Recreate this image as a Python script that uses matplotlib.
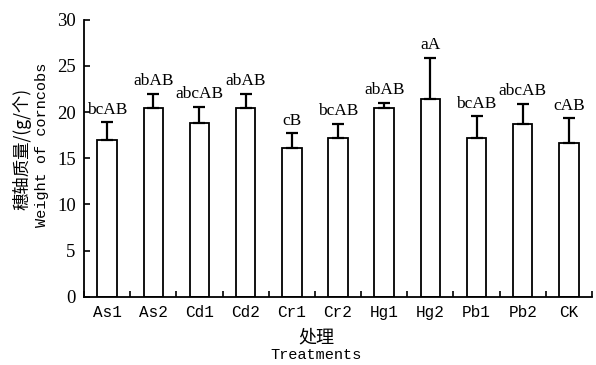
import matplotlib.pyplot as plt
import numpy as np

treatments = ["As1", "As2", "Cd1", "Cd2", "Cr1", "Cr2", "Hg1", "Hg2", "Pb1", "Pb2", "CK"]
weight = [17.0, 20.45, 18.85, 20.45, 16.15, 17.15, 20.45, 21.45, 17.15, 18.75, 16.7]
err = [1.9, 1.5, 1.7, 1.5, 1.55, 1.55, 0.55, 4.45, 2.4, 2.15, 2.6]
letters = ["bcAB", "abAB", "abcAB", "abAB", "cB", "bcAB", "abAB", "aA", "bcAB", "abcAB", "cAB"]

serif = "Liberation Serif"
mono = "Liberation Mono"
cjk = ["Noto Sans CJK SC", "DejaVu Sans"]

fig = plt.figure(figsize=(5.96, 3.65), dpi=100)
ax = fig.add_axes([84 / 596, 1 - 296.7 / 365, 508 / 596, 277 / 365])

x = np.arange(len(treatments))
ax.bar(x, weight, width=0.42, color="white", edgecolor="black", linewidth=1.3)
ax.errorbar(x, weight, yerr=[np.zeros(len(err)), err], fmt="none",
            ecolor="black", elinewidth=1.6, capsize=4.3, capthick=1.6)

for xi, w, e, lab in zip(x, weight, err, letters):
    ax.text(xi, w + e + 0.5, lab, ha="center", va="bottom",
            fontfamily=serif, fontsize=12.5)

ax.set_xlim(-0.5, len(treatments) - 0.5)
ax.set_ylim(0, 30)
ax.set_yticks(range(0, 31, 5))
ax.set_xticks(x)
ax.set_xticklabels(treatments, fontfamily=mono, fontsize=11.5)
ax.set_xticks(np.arange(-0.5, len(treatments)), minor=True)
ax.tick_params(axis="x", which="major", length=0, pad=6)
ax.tick_params(axis="x", which="minor", direction="in", length=4, width=1.2)
ax.tick_params(axis="y", direction="in", length=4, width=1.2, labelsize=13.5, pad=6)
for t in ax.get_yticklabels():
    t.set_fontfamily(serif)

ax.spines["top"].set_visible(False)
ax.spines["right"].set_visible(False)
ax.spines["left"].set_linewidth(1.3)
ax.spines["bottom"].set_linewidth(1.3)

fig.text(316 / 596, 1 - 337 / 365, "处理", ha="center", va="center", family=cjk, fontsize=13)
fig.text(316 / 596, 1 - 355 / 365, "Treatments", ha="center", va="center", family=mono, fontsize=11)
fig.text(22 / 596, 1 - 149 / 365, "穗轴质量/(g/个)", ha="center", va="center",
         rotation=90, family=cjk, fontsize=12.5)
fig.text(42 / 596, 1 - 145 / 365, "Weight of corncobs", ha="center", va="center",
         rotation=90, family=mono, fontsize=11)

fig.savefig("out.png", dpi=100)
